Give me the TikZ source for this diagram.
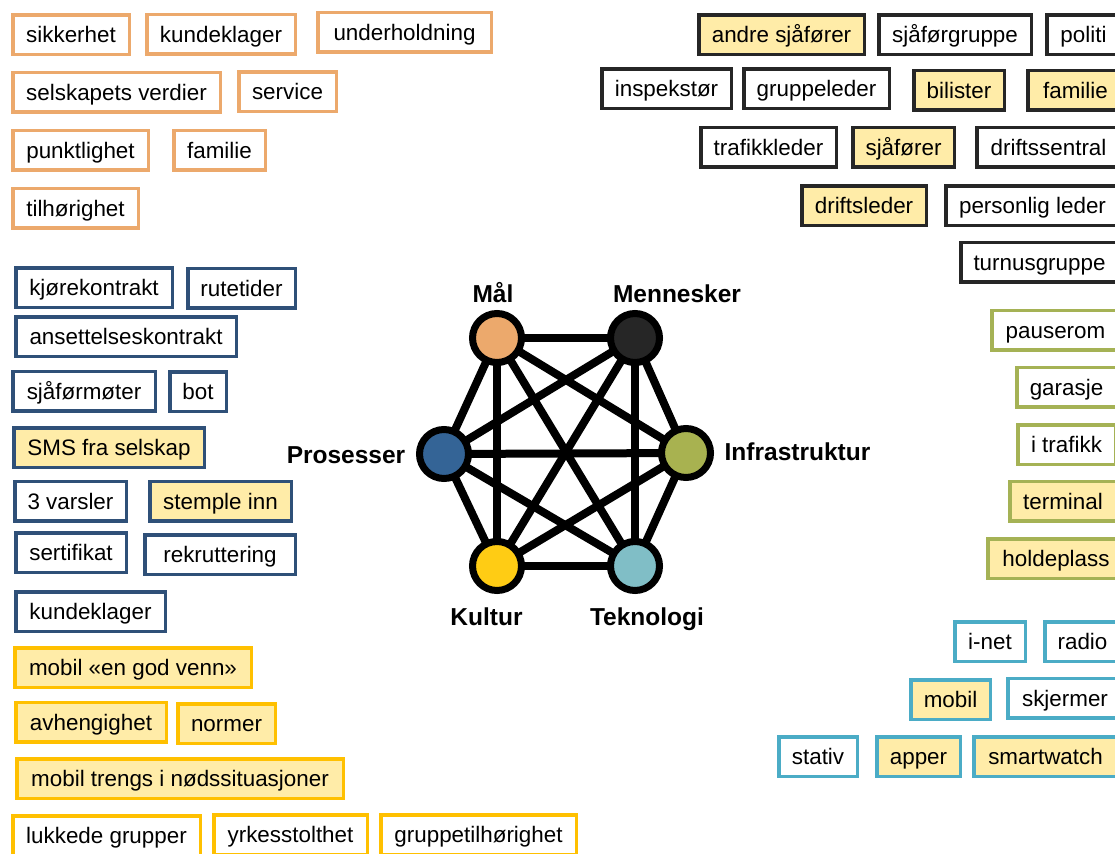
\documentclass[tikz,border=0pt]{standalone}
\usepackage{fontspec}
\setmainfont{Liberation Sans}
\usepackage{tikz}
\usetikzlibrary{backgrounds}
\definecolor{maalorange}{RGB}{236,169,108}
\definecolor{folkgray}{RGB}{38,38,38}
\definecolor{prosblue}{RGB}{47,80,120}
\definecolor{prosfill}{RGB}{52,100,150}
\definecolor{kultgold}{RGB}{255,192,0}
\definecolor{kultfill}{RGB}{255,204,20}
\definecolor{infragreen}{RGB}{165,178,85}
\definecolor{infrafill}{RGB}{168,178,80}
\definecolor{teknteal}{RGB}{75,172,198}
\definecolor{teknfill}{RGB}{128,190,198}
\definecolor{lightyellow}{RGB}{255,236,168}

\begin{document}
\begin{tikzpicture}[x=1pt, y=-1pt,
        tag/.style={draw, line width=3.5pt, fill=white, inner sep=2pt, minimum height=39.5pt,
            text height=16pt, text depth=0pt, font=\fontsize{22.4}{26}\selectfont},
        hl/.style={fill=lightyellow},
        maaltag/.style={tag, draw=maalorange},
        folktag/.style={tag, draw=folkgray},
        prostag/.style={tag, draw=prosblue},
        kulttag/.style={tag, draw=kultgold},
        infratag/.style={tag, draw=infragreen},
        markntag/.style={tag, draw=teknteal},
        hub/.style={circle, draw=black, line width=7pt, minimum size=49pt, inner sep=0pt},
        hublabel/.style={font=\bfseries\fontsize{24.5}{28}\selectfont, anchor=base},
        link/.style={line width=8pt}]
            \useasboundingbox (0,0) rectangle (1115,853);
            \clip (0,0) rectangle (1115,853);

            % hexagon in the middle
            \node[hub, fill=maalorange] (maal) at (497,338) {};
            \node[hub, fill=folkgray] (mennesker) at (635,338) {};
            \node[hub, fill=prosfill] (prosesser) at (444,454) {};
            \node[hub, fill=infrafill] (infrastruktur) at (686,453) {};
            \node[hub, fill=kultfill] (kultur) at (497,566) {};
            \node[hub, fill=teknfill] (teknologi) at (635,566) {};
            \node[hublabel] (lmaal) at (493,302) {Mål};
            \node[hublabel] (lmennesker) at (677,302) {Mennesker};
            \node[hublabel] (lprosesser) at (346,463) {Prosesser};
            \node[hublabel] (linfra) at (797.5,460) {Infrastruktur};
            \node[hublabel] (lkultur) at (486.5,625) {Kultur};
            \node[hublabel] (lteknologi) at (647,625) {Teknologi};
            \begin{scope}[on background layer]
                \draw[link] (maal.center) -- (mennesker.center);
                \draw[link] (maal.center) -- (prosesser.center);
                \draw[link] (maal.center) -- (infrastruktur.center);
                \draw[link] (maal.center) -- (kultur.center);
                \draw[link] (maal.center) -- (teknologi.center);
                \draw[link] (mennesker.center) -- (prosesser.center);
                \draw[link] (mennesker.center) -- (infrastruktur.center);
                \draw[link] (mennesker.center) -- (kultur.center);
                \draw[link] (mennesker.center) -- (teknologi.center);
                \draw[link] (prosesser.center) -- (infrastruktur.center);
                \draw[link] (prosesser.center) -- (kultur.center);
                \draw[link] (prosesser.center) -- (teknologi.center);
                \draw[link] (infrastruktur.center) -- (kultur.center);
                \draw[link] (infrastruktur.center) -- (teknologi.center);
                \draw[link] (kultur.center) -- (teknologi.center);
            \end{scope}

            % Mål
            \node[maaltag, minimum width=116.5pt] (sikkerhet) at (71,35) {sikkerhet};
            \node[maaltag, minimum width=148.5pt] (kundeklagerM) at (221,34.5) {kundeklager};
            \node[maaltag, minimum width=173.5pt] (underholdning) at (404.5,32.5) {underholdning};
            \node[maaltag, minimum width=207.5pt] (verdier) at (116.5,92.5) {selskapets verdier};
            \node[maaltag, minimum width=97.5pt] (service) at (287.5,92) {service};
            \node[maaltag, minimum width=135.5pt] (punktlighet) at (80.5,150.5) {punktlighet};
            \node[maaltag, minimum width=91.5pt] (familieM) at (219.5,150.5) {familie};
            \node[maaltag, minimum width=125.5pt] (tilhorighet) at (75.5,208) {tilhørighet};

            % Mennesker
            \node[folktag, hl, minimum width=165.5pt] (andre) at (781.5,35) {andre sjåfører};
            \node[folktag, minimum width=152.5pt] (sjaforgruppe) at (955,35) {sjåførgruppe};
            \node[folktag, minimum width=73.5pt] (politi) at (1083.5,35) {politi};
            \node[folktag, minimum width=129.5pt] (inspektor) at (666.5,89) {inspekstør};
            \node[folktag, minimum width=145.5pt] (gruppeleder) at (816.5,89) {gruppeleder};
            \node[folktag, hl, minimum width=90.5pt] (bilister) at (959,90.5) {bilister};
            \node[folktag, hl, minimum width=95.5pt] (familieF) at (1075.5,90.5) {familie};
            \node[folktag, minimum width=135.5pt] (trafikkleder) at (768.5,147.5) {trafikkleder};
            \node[folktag, hl, minimum width=101.5pt] (sjaforer) at (903.5,147.5) {sjåfører};
            \node[folktag, minimum width=143.5pt] (driftssentral) at (1048.5,147.5) {driftssentral};
            \node[folktag, hl, minimum width=124.5pt] (driftsleder) at (864,205.5) {driftsleder};
            \node[folktag, minimum width=173.5pt] (personlig) at (1032.5,205.5) {personlig leder};
            \node[folktag, minimum width=157.5pt] (turnus) at (1039.5,262) {turnusgruppe};

            % Prosesser
            \node[prostag, minimum width=156.5pt] (kjorekontrakt) at (94,287.5) {kjørekontrakt};
            \node[prostag, minimum width=107.5pt] (rutetider) at (241.5,288) {rutetider};
            \node[prostag, minimum width=220.5pt] (ansettelse) at (126,336.5) {ansettelseskontrakt};
            \node[prostag, minimum width=142.5pt] (sjaformoter) at (84,391) {sjåførmøter};
            \node[prostag, minimum width=56.5pt] (bot) at (198,391.5) {bot};
            \node[prostag, hl, minimum width=190.5pt] (sms) at (109,447.5) {SMS fra selskap};
            \node[prostag, minimum width=111.5pt] (varsler) at (70.5,501) {3 varsler};
            \node[prostag, hl, minimum width=141.5pt] (stemple) at (220.5,501) {stemple inn};
            \node[prostag, minimum width=110.5pt] (sertifikat) at (71,552.5) {sertifikat};
            \node[prostag, minimum width=150.5pt] (rekruttering) at (220,554.5) {rekruttering};
            \node[prostag, minimum width=149.5pt] (kundeklagerP) at (90.5,611.5) {kundeklager};

            % Kultur
            \node[kulttag, hl, minimum width=236.5pt] (godvenn) at (133,667.5) {mobil «en god venn»};
            \node[kulttag, hl, minimum width=150.5pt] (avhengighet) at (91,722) {avhengighet};
            \node[kulttag, hl, minimum width=97.5pt] (normer) at (226.5,723.5) {normer};
            \node[kulttag, hl, minimum width=326.5pt] (nodssituasjoner) at (180,778.5) {mobil trengs i nødssituasjoner};
            \node[kulttag, minimum width=187.5pt] (lukkede) at (106.5,835.5) {lukkede grupper};
            \node[kulttag, minimum width=153.5pt] (yrkesstolthet) at (290.5,834.5) {yrkesstolthet};
            \node[kulttag, minimum width=195.5pt] (gruppetilhorighet) at (478.5,834.5) {gruppetilhørighet};

            % Infrastruktur
            \node[infratag, minimum width=127.5pt] (pauserom) at (1055.5,330) {pauserom};
            \node[infratag, minimum width=99.5pt] (garasje) at (1066.5,387) {garasje};
            \node[infratag, minimum width=97.5pt] (itrafikk) at (1066.5,444.5) {i trafikk};
            \node[infratag, hl, minimum width=106.5pt] (terminal) at (1063,501) {terminal};
            \node[infratag, hl, minimum width=136.5pt] (holdeplass) at (1056,558.5) {holdeplass};

            % Teknologi
            \node[markntag, minimum width=70.5pt] (inet) at (990,641.5) {i-net};
            \node[markntag, minimum width=75.5pt] (radio) at (1082.5,641.5) {radio};
            \node[markntag, hl, minimum width=79.5pt] (mobil) at (950.5,699.5) {mobil};
            \node[markntag, minimum width=114.5pt] (skjermer) at (1065,698) {skjermer};
            \node[markntag, minimum width=78.5pt] (stativ) at (818,756.5) {stativ};
            \node[markntag, hl, minimum width=83.5pt] (apper) at (918.5,756.5) {apper};
            \node[markntag, hl, minimum width=143.5pt] (smartwatch) at (1045.5,756.5) {smartwatch};
        \end{tikzpicture}
\end{document}
